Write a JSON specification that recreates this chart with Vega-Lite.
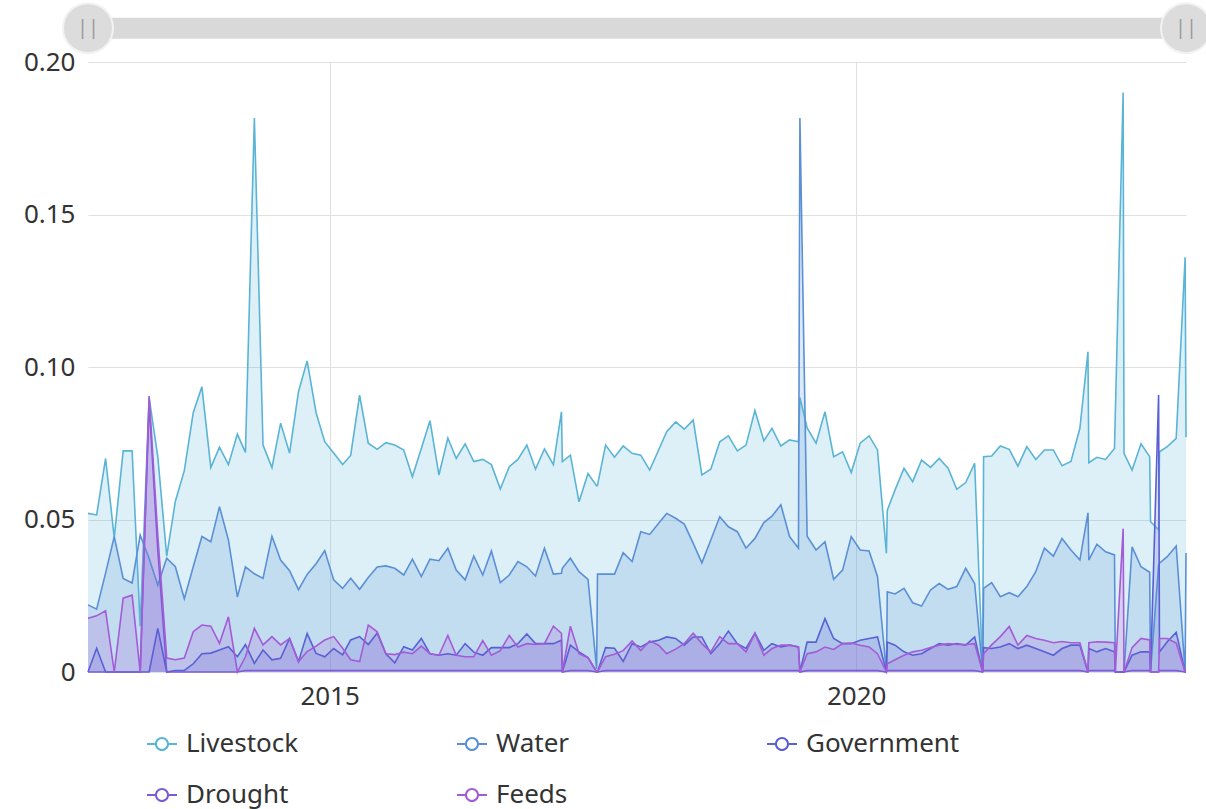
{
"$schema": "https://vega.github.io/schema/vega-lite/v6.json",
"width": 1098, "height": 610,
"autosize": "none",
"padding": {"left": 88, "top": 62, "right": 20, "bottom": 137},
"config": {"font": "Noto Sans", "view": {"stroke": null}},
"layer": [
{
"data": {"values": [
{"date":"2012-09-15","Livestock":0.052,"Water":0.022,"Government":0,"Drought":0,"Feeds":0.0176},
{"date":"2012-10-15","Livestock":0.0515,"Water":0.0206,"Government":0.0078,"Drought":0,"Feeds":0.0184},
{"date":"2012-11-15","Livestock":0.070,"Water":0.0324,"Government":0,"Drought":0,"Feeds":0.0201},
{"date":"2012-12-15","Livestock":0.044,"Water":0.0444,"Government":0,"Drought":0,"Feeds":0},
{"date":"2013-01-15","Livestock":0.0725,"Water":0.0307,"Government":0,"Drought":0,"Feeds":0.0242},
{"date":"2013-02-15","Livestock":0.0725,"Water":0.0292,"Government":0,"Drought":0,"Feeds":0.0252},
{"date":"2013-03-15","Livestock":0.015,"Water":0.0449,"Government":0,"Drought":0,"Feeds":0},
{"date":"2013-04-15","Livestock":0.09,"Water":0.0372,"Government":0,"Drought":0.088,"Feeds":0.0905},
{"date":"2013-05-15","Livestock":0.0706,"Water":0.0285,"Government":0.0143,"Drought":0.04,"Feeds":0.045},
{"date":"2013-06-15","Livestock":0.038,"Water":0.0373,"Government":0,"Drought":0,"Feeds":0.0046},
{"date":"2013-07-15","Livestock":0.056,"Water":0.0345,"Government":0.0005,"Drought":0,"Feeds":0.004},
{"date":"2013-08-15","Livestock":0.066,"Water":0.024,"Government":0.0005,"Drought":0,"Feeds":0.0046},
{"date":"2013-09-15","Livestock":0.085,"Water":0.0345,"Government":0.0027,"Drought":0,"Feeds":0.0132},
{"date":"2013-10-15","Livestock":0.0935,"Water":0.0444,"Government":0.006,"Drought":0,"Feeds":0.0154},
{"date":"2013-11-15","Livestock":0.067,"Water":0.0427,"Government":0.0062,"Drought":0,"Feeds":0.015},
{"date":"2013-12-15","Livestock":0.0737,"Water":0.0542,"Government":0.0072,"Drought":0,"Feeds":0.0094},
{"date":"2014-01-15","Livestock":0.068,"Water":0.0433,"Government":0.0083,"Drought":0,"Feeds":0.0181},
{"date":"2014-02-15","Livestock":0.078,"Water":0.0246,"Government":0.005,"Drought":0,"Feeds":0},
{"date":"2014-03-15","Livestock":0.072,"Water":0.0345,"Government":0.009,"Drought":0.0005,"Feeds":0.005},
{"date":"2014-04-15","Livestock":0.1816,"Water":0.0322,"Government":0.0028,"Drought":0.0005,"Feeds":0.0143},
{"date":"2014-05-15","Livestock":0.0744,"Water":0.0307,"Government":0.0072,"Drought":0.0005,"Feeds":0.0089},
{"date":"2014-06-15","Livestock":0.067,"Water":0.0445,"Government":0.004,"Drought":0.0005,"Feeds":0.0116},
{"date":"2014-07-15","Livestock":0.0816,"Water":0.0367,"Government":0.0045,"Drought":0.0005,"Feeds":0.0089},
{"date":"2014-08-15","Livestock":0.0718,"Water":0.0332,"Government":0.011,"Drought":0.0005,"Feeds":0.011},
{"date":"2014-09-15","Livestock":0.0919,"Water":0.027,"Government":0.0034,"Drought":0.0005,"Feeds":0.0034},
{"date":"2014-10-15","Livestock":0.102,"Water":0.032,"Government":0.0126,"Drought":0.0005,"Feeds":0.0067},
{"date":"2014-11-15","Livestock":0.085,"Water":0.0355,"Government":0.0061,"Drought":0.0005,"Feeds":0.0085},
{"date":"2014-12-15","Livestock":0.0755,"Water":0.0398,"Government":0.005,"Drought":0.0005,"Feeds":0.0105},
{"date":"2015-01-15","Livestock":0.0718,"Water":0.0302,"Government":0.0077,"Drought":0.0005,"Feeds":0.0116},
{"date":"2015-02-15","Livestock":0.068,"Water":0.0274,"Government":0.0056,"Drought":0.0005,"Feeds":0.0078},
{"date":"2015-03-15","Livestock":0.071,"Water":0.0307,"Government":0.0105,"Drought":0.0005,"Feeds":0.004},
{"date":"2015-04-15","Livestock":0.0908,"Water":0.0271,"Government":0.0116,"Drought":0.0005,"Feeds":0.0034},
{"date":"2015-05-15","Livestock":0.075,"Water":0.031,"Government":0.009,"Drought":0.0005,"Feeds":0.0154},
{"date":"2015-06-15","Livestock":0.073,"Water":0.0344,"Government":0.0128,"Drought":0.0005,"Feeds":0.0132},
{"date":"2015-07-15","Livestock":0.0752,"Water":0.0348,"Government":0.006,"Drought":0.0005,"Feeds":0.006},
{"date":"2015-08-15","Livestock":0.0744,"Water":0.034,"Government":0.003,"Drought":0.0005,"Feeds":0.0057},
{"date":"2015-09-15","Livestock":0.0728,"Water":0.0318,"Government":0.0083,"Drought":0.0005,"Feeds":0.0065},
{"date":"2015-10-15","Livestock":0.064,"Water":0.037,"Government":0.0072,"Drought":0.0005,"Feeds":0.006},
{"date":"2015-11-15","Livestock":0.0733,"Water":0.0313,"Government":0.011,"Drought":0.0005,"Feeds":0.0085},
{"date":"2015-12-15","Livestock":0.0824,"Water":0.037,"Government":0.006,"Drought":0.0005,"Feeds":0.006},
{"date":"2016-01-15","Livestock":0.0646,"Water":0.0365,"Government":0.0055,"Drought":0.0005,"Feeds":0.0055},
{"date":"2016-02-15","Livestock":0.0767,"Water":0.0406,"Government":0.006,"Drought":0.0005,"Feeds":0.012},
{"date":"2016-03-15","Livestock":0.070,"Water":0.0334,"Government":0.0055,"Drought":0.0005,"Feeds":0.0055},
{"date":"2016-04-15","Livestock":0.0748,"Water":0.0302,"Government":0.0093,"Drought":0.0005,"Feeds":0.005},
{"date":"2016-05-15","Livestock":0.069,"Water":0.038,"Government":0.0065,"Drought":0.0005,"Feeds":0.005},
{"date":"2016-06-15","Livestock":0.0697,"Water":0.0318,"Government":0.0055,"Drought":0.0005,"Feeds":0.0103},
{"date":"2016-07-15","Livestock":0.068,"Water":0.0397,"Government":0.008,"Drought":0.0005,"Feeds":0.0055},
{"date":"2016-08-15","Livestock":0.060,"Water":0.0293,"Government":0.008,"Drought":0.0005,"Feeds":0.007},
{"date":"2016-09-15","Livestock":0.0673,"Water":0.0318,"Government":0.008,"Drought":0.0005,"Feeds":0.012},
{"date":"2016-10-15","Livestock":0.0697,"Water":0.0362,"Government":0.0093,"Drought":0.0005,"Feeds":0.0082},
{"date":"2016-11-15","Livestock":0.0744,"Water":0.0345,"Government":0.0125,"Drought":0.0005,"Feeds":0.0093},
{"date":"2016-12-15","Livestock":0.0665,"Water":0.0315,"Government":0.0093,"Drought":0.0005,"Feeds":0.009},
{"date":"2017-01-15","Livestock":0.0731,"Water":0.0406,"Government":0.0093,"Drought":0.0005,"Feeds":0.0093},
{"date":"2017-02-15","Livestock":0.068,"Water":0.0321,"Government":0.0093,"Drought":0.0005,"Feeds":0.015},
{"date":"2017-03-15","Livestock":0.0853,"Water":0.0324,"Government":0.0104,"Drought":0.0005,"Feeds":0.0127},
{"date":"2017-03-18","Livestock":0.069,"Water":0.034,"Government":0,"Drought":0,"Feeds":0},
{"date":"2017-04-15","Livestock":0.0711,"Water":0.0373,"Government":0.0088,"Drought":0.0005,"Feeds":0.015},
{"date":"2017-05-15","Livestock":0.0558,"Water":0.0329,"Government":0.0066,"Drought":0.0005,"Feeds":0.006},
{"date":"2017-06-15","Livestock":0.0651,"Water":0.0304,"Government":0.0047,"Drought":0.0005,"Feeds":0.0047},
{"date":"2017-07-15","Livestock":0.061,"Water":0.001,"Government":0,"Drought":0,"Feeds":0},
{"date":"2017-07-18","Livestock":0.0612,"Water":0.0321,"Government":0,"Drought":0,"Feeds":0},
{"date":"2017-08-15","Livestock":0.0744,"Water":0.0321,"Government":0.008,"Drought":0.0005,"Feeds":0.005},
{"date":"2017-09-15","Livestock":0.0704,"Water":0.0321,"Government":0.0078,"Drought":0.0005,"Feeds":0.0058},
{"date":"2017-10-15","Livestock":0.0741,"Water":0.0391,"Government":0.0035,"Drought":0.0005,"Feeds":0.007},
{"date":"2017-11-15","Livestock":0.0717,"Water":0.0362,"Government":0.0093,"Drought":0.0005,"Feeds":0.0102},
{"date":"2017-12-15","Livestock":0.0711,"Water":0.046,"Government":0.0082,"Drought":0.0005,"Feeds":0.007},
{"date":"2018-01-15","Livestock":0.0662,"Water":0.0451,"Government":0.0098,"Drought":0.0005,"Feeds":0.0102},
{"date":"2018-02-15","Livestock":0.0728,"Water":0.0488,"Government":0.0104,"Drought":0.0005,"Feeds":0.0088},
{"date":"2018-03-15","Livestock":0.0788,"Water":0.052,"Government":0.0115,"Drought":0.0005,"Feeds":0.006},
{"date":"2018-04-15","Livestock":0.082,"Water":0.0504,"Government":0.011,"Drought":0.0005,"Feeds":0.0075},
{"date":"2018-05-15","Livestock":0.0796,"Water":0.0485,"Government":0.0088,"Drought":0.0005,"Feeds":0.0093},
{"date":"2018-06-15","Livestock":0.0826,"Water":0.0422,"Government":0.0115,"Drought":0.0005,"Feeds":0.0127},
{"date":"2018-07-15","Livestock":0.0646,"Water":0.0358,"Government":0.0115,"Drought":0.0005,"Feeds":0.0093},
{"date":"2018-08-15","Livestock":0.0665,"Water":0.0433,"Government":0.006,"Drought":0.0005,"Feeds":0.0066},
{"date":"2018-09-15","Livestock":0.0755,"Water":0.0509,"Government":0.0093,"Drought":0.0005,"Feeds":0.0116},
{"date":"2018-10-15","Livestock":0.0774,"Water":0.0476,"Government":0.0134,"Drought":0.0005,"Feeds":0.0093},
{"date":"2018-11-15","Livestock":0.0725,"Water":0.046,"Government":0.0093,"Drought":0.0005,"Feeds":0.0093},
{"date":"2018-12-15","Livestock":0.0744,"Water":0.0406,"Government":0.0077,"Drought":0.0005,"Feeds":0.0066},
{"date":"2019-01-15","Livestock":0.0857,"Water":0.0438,"Government":0.0127,"Drought":0.0005,"Feeds":0.0127},
{"date":"2019-02-15","Livestock":0.0758,"Water":0.049,"Government":0.0071,"Drought":0.0005,"Feeds":0.0055},
{"date":"2019-03-15","Livestock":0.0799,"Water":0.0511,"Government":0.0093,"Drought":0.0005,"Feeds":0.0077},
{"date":"2019-04-15","Livestock":0.0741,"Water":0.0548,"Government":0.0082,"Drought":0.0005,"Feeds":0.0088},
{"date":"2019-05-15","Livestock":0.0761,"Water":0.0444,"Government":0.0088,"Drought":0.0005,"Feeds":0.0088},
{"date":"2019-06-15","Livestock":0.0755,"Water":0.0406,"Government":0.0082,"Drought":0.0005,"Feeds":0.0082},
{"date":"2019-06-20","Livestock":0.090,"Water":0.1816,"Government":0,"Drought":0,"Feeds":0},
{"date":"2019-07-15","Livestock":0.080,"Water":0.0445,"Government":0.0098,"Drought":0.0005,"Feeds":0.006},
{"date":"2019-08-15","Livestock":0.075,"Water":0.040,"Government":0.0098,"Drought":0.0005,"Feeds":0.0066},
{"date":"2019-09-15","Livestock":0.0853,"Water":0.0427,"Government":0.0175,"Drought":0.0005,"Feeds":0.0082},
{"date":"2019-10-15","Livestock":0.0706,"Water":0.0304,"Government":0.011,"Drought":0.0005,"Feeds":0.0074},
{"date":"2019-11-15","Livestock":0.0722,"Water":0.0334,"Government":0.0093,"Drought":0.0005,"Feeds":0.0093},
{"date":"2019-12-15","Livestock":0.0654,"Water":0.0444,"Government":0.0093,"Drought":0.0005,"Feeds":0.0095},
{"date":"2020-01-15","Livestock":0.075,"Water":0.040,"Government":0.0104,"Drought":0.0005,"Feeds":0.0088},
{"date":"2020-02-15","Livestock":0.0774,"Water":0.0397,"Government":0.011,"Drought":0.0005,"Feeds":0.0082},
{"date":"2020-03-15","Livestock":0.0728,"Water":0.0313,"Government":0.0115,"Drought":0.0005,"Feeds":0.006},
{"date":"2020-04-15","Livestock":0.0389,"Water":0,"Government":0,"Drought":0,"Feeds":0},
{"date":"2020-04-18","Livestock":0.053,"Water":0.0263,"Government":0.0098,"Drought":0.0005,"Feeds":0.0027},
{"date":"2020-05-15","Livestock":0.0597,"Water":0.0256,"Government":0.0088,"Drought":0.0005,"Feeds":0.004},
{"date":"2020-06-15","Livestock":0.0668,"Water":0.0274,"Government":0.0066,"Drought":0.0005,"Feeds":0.0055},
{"date":"2020-07-15","Livestock":0.0624,"Water":0.0227,"Government":0.0055,"Drought":0.0005,"Feeds":0.0066},
{"date":"2020-08-15","Livestock":0.0695,"Water":0.0216,"Government":0.006,"Drought":0.0005,"Feeds":0.0071},
{"date":"2020-09-15","Livestock":0.0671,"Water":0.0269,"Government":0.0077,"Drought":0.0005,"Feeds":0.008},
{"date":"2020-10-15","Livestock":0.070,"Water":0.029,"Government":0.0093,"Drought":0.0005,"Feeds":0.0088},
{"date":"2020-11-15","Livestock":0.0668,"Water":0.0271,"Government":0.0088,"Drought":0.0005,"Feeds":0.0093},
{"date":"2020-12-15","Livestock":0.0599,"Water":0.028,"Government":0.0093,"Drought":0.0005,"Feeds":0.009},
{"date":"2021-01-15","Livestock":0.0621,"Water":0.034,"Government":0.0088,"Drought":0.0005,"Feeds":0.009},
{"date":"2021-02-15","Livestock":0.0684,"Water":0.029,"Government":0.0115,"Drought":0.0005,"Feeds":0.0093},
{"date":"2021-03-15","Livestock":0,"Water":0,"Government":0,"Drought":0,"Feeds":0},
{"date":"2021-03-18","Livestock":0.0706,"Water":0.0274,"Government":0.008,"Drought":0.0005,"Feeds":0.006},
{"date":"2021-04-15","Livestock":0.0708,"Water":0.0293,"Government":0.0077,"Drought":0.0005,"Feeds":0.0089},
{"date":"2021-05-15","Livestock":0.0741,"Water":0.0247,"Government":0.0082,"Drought":0.0005,"Feeds":0.0116},
{"date":"2021-06-15","Livestock":0.073,"Water":0.026,"Government":0.0093,"Drought":0.0005,"Feeds":0.0149},
{"date":"2021-07-15","Livestock":0.0675,"Water":0.0247,"Government":0.0077,"Drought":0.0005,"Feeds":0.0088},
{"date":"2021-08-15","Livestock":0.0739,"Water":0.028,"Government":0.0088,"Drought":0.0005,"Feeds":0.012},
{"date":"2021-09-15","Livestock":0.0697,"Water":0.0329,"Government":0.0077,"Drought":0.0005,"Feeds":0.011},
{"date":"2021-10-15","Livestock":0.0728,"Water":0.0406,"Government":0.0066,"Drought":0.0005,"Feeds":0.0104},
{"date":"2021-11-15","Livestock":0.0728,"Water":0.038,"Government":0.0055,"Drought":0.0005,"Feeds":0.0096},
{"date":"2021-12-15","Livestock":0.0676,"Water":0.0438,"Government":0.0077,"Drought":0.0005,"Feeds":0.01},
{"date":"2022-01-15","Livestock":0.069,"Water":0.040,"Government":0.0088,"Drought":0.0005,"Feeds":0.0096},
{"date":"2022-02-15","Livestock":0.0799,"Water":0.0367,"Government":0.0088,"Drought":0.0005,"Feeds":0.0096},
{"date":"2022-03-15","Livestock":0.105,"Water":0.0522,"Government":0,"Drought":0,"Feeds":0},
{"date":"2022-03-18","Livestock":0.0686,"Water":0.0367,"Government":0.0077,"Drought":0.0005,"Feeds":0.0096},
{"date":"2022-04-15","Livestock":0.0704,"Water":0.0419,"Government":0.0066,"Drought":0.0005,"Feeds":0.0099},
{"date":"2022-05-15","Livestock":0.0697,"Water":0.0394,"Government":0.0077,"Drought":0.0005,"Feeds":0.0098},
{"date":"2022-06-15","Livestock":0.0733,"Water":0.0384,"Government":0.0066,"Drought":0.0005,"Feeds":0.0096},
{"date":"2022-06-18","Livestock":0.085,"Water":0,"Government":0,"Drought":0,"Feeds":0},
{"date":"2022-07-15","Livestock":0.19,"Water":0,"Government":0,"Drought":0,"Feeds":0.047},
{"date":"2022-07-18","Livestock":0.0717,"Water":0,"Government":0,"Drought":0,"Feeds":0},
{"date":"2022-08-15","Livestock":0.0662,"Water":0.041,"Government":0.0055,"Drought":0.0005,"Feeds":0.008},
{"date":"2022-09-15","Livestock":0.0748,"Water":0.0345,"Government":0.0066,"Drought":0.0005,"Feeds":0.011},
{"date":"2022-10-15","Livestock":0.0706,"Water":0.0327,"Government":0.0066,"Drought":0.0005,"Feeds":0.0105},
{"date":"2022-10-18","Livestock":0.0493,"Water":0,"Government":0,"Drought":0,"Feeds":0},
{"date":"2022-11-15","Livestock":0.0466,"Water":0.035,"Government":0.0908,"Drought":0,"Feeds":0},
{"date":"2022-11-18","Livestock":0.0722,"Water":0.0357,"Government":0.0066,"Drought":0.0005,"Feeds":0.011},
{"date":"2022-12-15","Livestock":0.0739,"Water":0.0378,"Government":0.0099,"Drought":0.0005,"Feeds":0.011},
{"date":"2023-01-15","Livestock":0.0766,"Water":0.0413,"Government":0.013,"Drought":0.0005,"Feeds":0.0095},
{"date":"2023-02-15","Livestock":0.136,"Water":0,"Government":0,"Drought":0,"Feeds":0},
{"date":"2023-02-18","Livestock":0.077,"Water":0.039,"Government":0,"Drought":0,"Feeds":0}
]},
"transform": [{"fold": ["Livestock","Water","Government","Drought","Feeds"], "as": ["series","value"]}],
"mark": {"type": "area", "fillOpacity": 0.2, "line": {"strokeWidth": 1.6}},
"encoding": {
"x": {"field": "date", "type": "temporal", "scale": {"domain": [{"year":2012,"month":9,"date":15},{"year":2023,"month":2,"date":18}]},
 "axis": {"title": null, "values": [{"year":2015,"month":1,"date":1},{"year":2020,"month":1,"date":1}], "format": "%Y", "labelFontSize": 26, "labelColor": "#333333", "ticks": false, "domain": false, "grid": true, "gridColor": "#e0e0e0", "labelPadding": 11}},
"y": {"field": "value", "type": "quantitative", "stack": null, "scale": {"domain": [0, 0.2]},
 "axis": {"title": null, "values": [0, 0.05, 0.1, 0.15, 0.2], "labelExpr": "datum.value == 0 ? '0' : format(datum.value, '.2f')", "labelFontSize": 26, "labelColor": "#333333", "ticks": false, "domain": false, "grid": true, "gridColor": "#e0e0e0", "labelPadding": 13}},
"color": {"field": "series", "type": "nominal", "sort": ["Livestock","Water","Government","Drought","Feeds"],
 "scale": {"domain": ["Livestock","Water","Government","Drought","Feeds"], "range": ["#5ab4d6","#5b8fd6","#5a60d4","#7b5bd6","#a45bd6"]},
 "legend": {"title": null, "orient": "none", "legendX": 59, "legendY": 667, "direction": "horizontal", "columns": 3, "gridAlign": "all", "columnPadding": 117, "rowPadding": 23,
  "symbolType": "M-1,-0.06H-0.46V0.06H-1Z M0.46,-0.06H1V0.06H0.46Z M-0.47,0A0.47,0.47,0,1,1,0.47,0A0.47,0.47,0,1,1,-0.47,0Z M-0.33,0A0.33,0.33,0,1,0,0.33,0A0.33,0.33,0,1,0,-0.33,0Z", "symbolSize": 900, "symbolStrokeWidth": 0, "symbolOpacity": 1,
  "labelFontSize": 26, "labelColor": "#333333", "labelOffset": 9}}
}
},
{
"data": {"values": [{"start": "2012-09-15", "end": "2023-02-18"}]},
"mark": {"type": "rule", "strokeWidth": 21, "color": "#d9d9d9", "strokeCap": "round"},
"encoding": {"x": {"field": "start", "type": "temporal", "axis": {"title": null}}, "x2": {"field": "end"}, "y": {"datum": 0.2111, "type": "quantitative", "axis": {"title": null}}}
},
{
"data": {"values": [{"handle": "2012-09-15"}, {"handle": "2023-02-18"}]},
"layer": [
{"mark": {"type": "point", "shape": "circle", "filled": true, "size": 2500, "color": "#dcdcdc", "stroke": "#f2f2f2", "strokeWidth": 2, "opacity": 1},
 "encoding": {"x": {"field": "handle", "type": "temporal", "axis": {"title": null}}, "y": {"datum": 0.2111, "type": "quantitative", "axis": {"title": null}}}},
{"mark": {"type": "text", "text": "||", "fontSize": 20, "color": "#9a9a9a", "baseline": "middle", "align": "center"},
 "encoding": {"x": {"field": "handle", "type": "temporal", "axis": {"title": null}}, "y": {"datum": 0.2111, "type": "quantitative", "axis": {"title": null}}}}
]
}
]
}
